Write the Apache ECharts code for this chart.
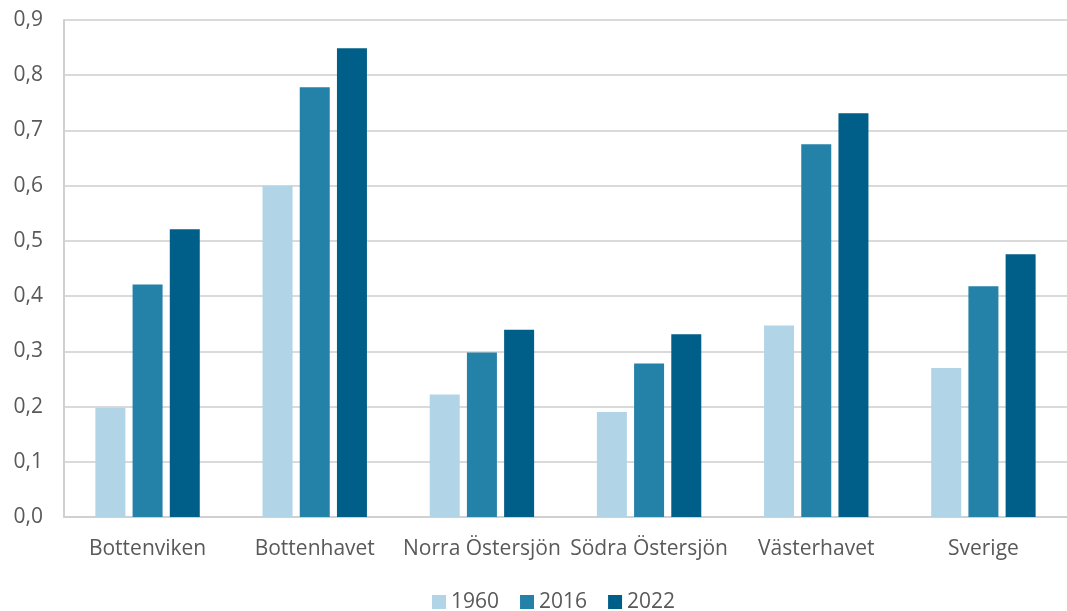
<!DOCTYPE html>
<html>
<head>
<meta charset="utf-8">
<script src="https://cdn.jsdelivr.net/npm/echarts@6/dist/echarts.min.js"></script>
<style>
  html, body { margin: 0; padding: 0; background: #fff; }
  #chart { width: 1067px; height: 611px; }
</style>
</head>
<body>
<div id="chart"></div>
<script>
// Regions along the coast plus the national total
const categories = ['Bottenviken', 'Bottenhavet', 'Norra Östersjön', 'Södra Östersjön', 'Västerhavet', 'Sverige'];
const years = ['1960', '2016', '2022'];
const values1960 = [0.198, 0.600, 0.222, 0.190, 0.347, 0.270];
const values2016 = [0.421, 0.778, 0.298, 0.278, 0.675, 0.418];
const values2022 = [0.521, 0.849, 0.339, 0.331, 0.731, 0.476];
const colors = ['#B1D4E7', '#2481A8', '#005F88'];

const textColor = '#595959';
const font = 'Open Sans';

const chart = echarts.init(document.getElementById('chart'));
const seriesData = [values1960, values2016, values2022];

chart.setOption({
  animation: false,
  textStyle: { fontFamily: font },
  grid: { left: 64, right: -6, top: 20, bottom: 94, containLabel: false },
  legend: {
    data: years,
    left: 427,
    top: 583,
    itemWidth: 14,
    itemHeight: 14,
    itemGap: 21,
    icon: 'rect',
    textStyle: { color: textColor, fontSize: 21, fontFamily: font, lineHeight: 28 }
  },
  xAxis: {
    type: 'category',
    data: categories,
    axisLine: { show: true, lineStyle: { color: '#D0D0D0', width: 2 } },
    axisTick: { show: false },
    axisLabel: { color: textColor, fontSize: 21, margin: 22, interval: 0 }
  },
  yAxis: {
    type: 'value',
    min: 0,
    max: 0.9,
    interval: 0.1,
    axisLine: { show: true, lineStyle: { color: '#D0D0D0', width: 2 } },
    axisTick: { show: false },
    splitLine: { lineStyle: { color: '#DADADA', width: 2 } },
    axisLabel: {
      color: textColor,
      fontSize: 21,
      margin: 21,
      formatter: v => v.toFixed(1).replace('.', ',')
    }
  },
  series: years.map((y, i) => ({
    name: y,
    type: 'bar',
    data: seriesData[i],
    barWidth: 30,
    barGap: '24%',
    itemStyle: { color: colors[i] }
  }))
});
</script>
</body>
</html>
